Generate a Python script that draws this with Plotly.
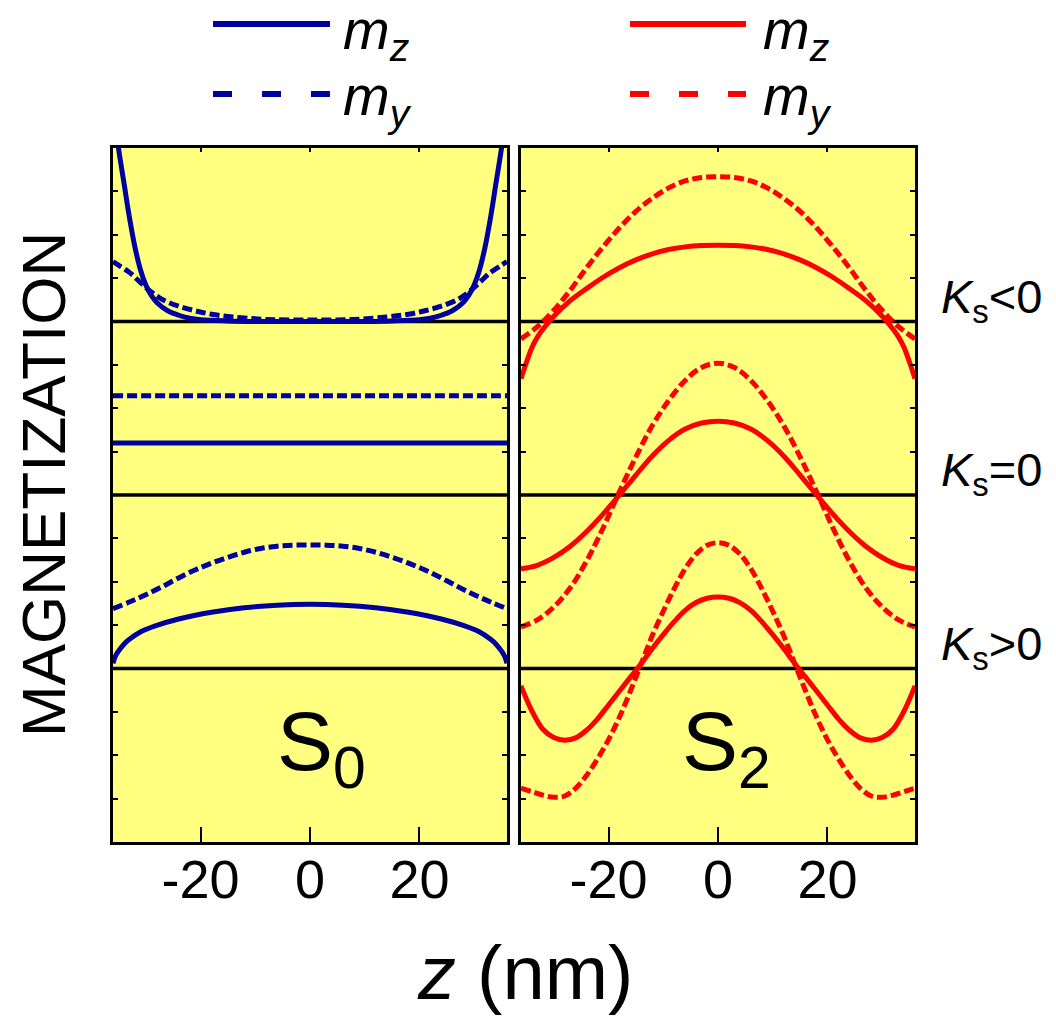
import plotly.graph_objects as go

# ---------------- data ----------------
Z_RANGE = [-36, 36]
X_TICKS = [-20, 0, 20]
X_TICKTEXT = ["-20", "0", "20"]
Y_RANGE = [-1, 3]
# vertical offsets of the three cases (baselines)
OFF_POS, OFF_ZERO, OFF_NEG = 0.0, 1.0, 2.0
CASE_LABELS = ["<i>K</i><sub>s</sub>&lt;0", "<i>K</i><sub>s</sub>=0", "<i>K</i><sub>s</sub>&gt;0"]
CASE_OFFSETS = [OFF_NEG, OFF_ZERO, OFF_POS]

# ---- S0 (blue), values relative to baseline ----
s0_neg_mz_z = [-36, -35, -34, -33, -32, -31, -30, -29, -28, -26, -24, -22, -20, -15, -10, 0,
               10, 15, 20, 22, 24, 26, 28, 29, 30, 31, 32, 33, 34, 35, 36]
s0_neg_mz = [1.25, 1.0, 0.80, 0.60, 0.43, 0.30, 0.21, 0.15, 0.11, 0.062, 0.036, 0.019, 0.01, 0.003, 0.0, 0.0,
             0.0, 0.003, 0.01, 0.019, 0.036, 0.062, 0.11, 0.15, 0.21, 0.30, 0.43, 0.60, 0.80, 1.0, 1.25]
s0_neg_my_z = [-36, -35, -33, -31, -29, -27, -24, -21, -18, -14, -8, 0, 8, 14, 18, 21, 24, 27, 29, 31, 33, 35, 36]
s0_neg_my = [0.345, 0.325, 0.283, 0.225, 0.17, 0.127, 0.088, 0.062, 0.042, 0.026, 0.012, 0.008,
             0.012, 0.026, 0.042, 0.062, 0.088, 0.127, 0.17, 0.225, 0.283, 0.325, 0.345]
s0_zero_z = [-36, -18, 0, 18, 36]
s0_zero_mz = [0.30, 0.30, 0.30, 0.30, 0.30]
s0_zero_my = [0.572, 0.572, 0.572, 0.572, 0.572]
s0_pos_my_z = [-36, -33, -30, -27, -24, -21, -18, -15, -12, -9, -6, -3, 0, 3, 6, 9, 12, 15, 18, 21, 24, 27, 30, 33, 36]
s0_pos_my = [0.345, 0.383, 0.425, 0.472, 0.522, 0.568, 0.607, 0.641, 0.670, 0.692, 0.705, 0.711, 0.712,
             0.711, 0.705, 0.692, 0.670, 0.641, 0.607, 0.568, 0.522, 0.472, 0.425, 0.383, 0.345]
s0_pos_mz_z = [-36, -35.5, -35, -34, -33, -31, -28, -24, -18, -12, -6, 0, 6, 12, 18, 24, 28, 31, 33, 34, 35, 35.5, 36]
s0_pos_mz = [0.03, 0.075, 0.10, 0.14, 0.168, 0.21, 0.248, 0.285, 0.324, 0.350, 0.365, 0.37,
             0.365, 0.350, 0.324, 0.285, 0.248, 0.21, 0.168, 0.14, 0.10, 0.075, 0.03]

# ---- S2 (red), values relative to baseline ----
s2_grid3 = [-36, -33, -30, -27, -24, -21, -18, -15, -12, -9, -6, -3, 0, 3, 6, 9, 12, 15, 18, 21, 24, 27, 30, 33, 36]
s2_neg_my = [-0.10, -0.03, 0.065, 0.18, 0.31, 0.43, 0.54, 0.635, 0.71, 0.77, 0.81, 0.83, 0.835,
             0.83, 0.81, 0.77, 0.71, 0.635, 0.54, 0.43, 0.31, 0.18, 0.065, -0.03, -0.10]
s2_neg_mz_z = [-36, -35, -34, -33, -32, -30, -27, -24, -21, -18, -15, -12, -9, -6, -3, 0,
               3, 6, 9, 12, 15, 18, 21, 24, 27, 30, 32, 33, 34, 35, 36]
s2_neg_mz = [-0.33, -0.235, -0.15, -0.09, -0.045, 0.03, 0.12, 0.19, 0.255, 0.31, 0.355, 0.39, 0.415, 0.43, 0.438, 0.44,
             0.438, 0.43, 0.415, 0.39, 0.355, 0.31, 0.255, 0.19, 0.12, 0.03, -0.045, -0.09, -0.15, -0.235, -0.33]
s2_zero_mz = [-0.425, -0.405, -0.36, -0.295, -0.21, -0.11, 0.0, 0.115, 0.225, 0.315, 0.38, 0.415, 0.425,
              0.415, 0.38, 0.315, 0.225, 0.115, 0.0, -0.11, -0.21, -0.295, -0.36, -0.405, -0.425]
s2_zero_my = [-0.76, -0.72, -0.645, -0.535, -0.38, -0.19, 0.02, 0.22, 0.40, 0.545, 0.66, 0.735, 0.76,
              0.735, 0.66, 0.545, 0.40, 0.22, 0.02, -0.19, -0.38, -0.535, -0.645, -0.72, -0.76]
s2_grid2 = [-36, -34, -32, -30, -28, -26, -24, -22, -20, -18, -16, -14, -12, -10, -8, -6, -4, -2, 0,
            2, 4, 6, 8, 10, 12, 14, 16, 18, 20, 22, 24, 26, 28, 30, 32, 34, 36]
s2_pos_mz = [-0.10, -0.245, -0.35, -0.398, -0.413, -0.40, -0.355, -0.29, -0.21, -0.13, -0.05, 0.03, 0.115,
             0.195, 0.27, 0.335, 0.38, 0.405, 0.412,
             0.405, 0.38, 0.335, 0.27, 0.195, 0.115, 0.03, -0.05, -0.13, -0.21, -0.29, -0.355, -0.40,
             -0.413, -0.398, -0.35, -0.245, -0.10]
s2_pos_my = [-0.69, -0.71, -0.73, -0.742, -0.735, -0.69, -0.615, -0.52, -0.41, -0.28, -0.13, 0.03, 0.19,
             0.33, 0.46, 0.575, 0.66, 0.71, 0.725,
             0.71, 0.66, 0.575, 0.46, 0.33, 0.19, 0.03, -0.13, -0.28, -0.41, -0.52, -0.615, -0.69,
             -0.735, -0.742, -0.73, -0.71, -0.69]

LEGEND_LABELS = ["<i>m</i><sub><i>z</i></sub>", "<i>m</i><sub><i>y</i></sub>"]
PANEL_LABELS = ["S<sub>0</sub>", "S<sub>2</sub>"]
Y_TITLE = "MAGNETIZATION"
X_TITLE = "<i>z</i> (nm)"

# ---------------- style ----------------
BLUE = "#0000A0"
RED = "#FF0000"
BG = "#FFFF80"
FONT = "Liberation Sans, Arial, sans-serif"
PAGE_OFF = 8                      # default body margin of the html page
W, H = 1056 - PAGE_OFF, 1016 - PAGE_OFF
ML, MR, MT, MB = 113 - PAGE_OFF, 141, 148 - PAGE_OFF, 174
LW = 5
DASH = "10px,4px"

fig = go.Figure()


def add_curve(xa, ya, z, vals, off, color, dashed):
    fig.add_trace(go.Scatter(
        x=z, y=[off + v for v in vals], xaxis=xa, yaxis=ya, mode="lines",
        line=dict(color=color, width=LW, dash=DASH if dashed else "solid", shape="spline", smoothing=1.0),
        showlegend=False, hoverinfo="skip"))


# S0 panel
add_curve("x", "y", s0_neg_my_z, s0_neg_my, OFF_NEG, BLUE, True)
add_curve("x", "y", s0_neg_mz_z, s0_neg_mz, OFF_NEG, BLUE, False)
add_curve("x", "y", s0_zero_z, s0_zero_my, OFF_ZERO, BLUE, True)
add_curve("x", "y", s0_zero_z, s0_zero_mz, OFF_ZERO, BLUE, False)
add_curve("x", "y", s0_pos_my_z, s0_pos_my, OFF_POS, BLUE, True)
add_curve("x", "y", s0_pos_mz_z, s0_pos_mz, OFF_POS, BLUE, False)
# S2 panel
add_curve("x2", "y2", s2_grid3, s2_neg_my, OFF_NEG, RED, True)
add_curve("x2", "y2", s2_neg_mz_z, s2_neg_mz, OFF_NEG, RED, False)
add_curve("x2", "y2", s2_grid3, s2_zero_my, OFF_ZERO, RED, True)
add_curve("x2", "y2", s2_grid3, s2_zero_mz, OFF_ZERO, RED, False)
add_curve("x2", "y2", s2_grid2, s2_pos_my, OFF_POS, RED, True)
add_curve("x2", "y2", s2_grid2, s2_pos_mz, OFF_POS, RED, False)

# dummy traces so that the top (short-tick) overlay axes are drawn
fig.add_trace(go.Scatter(x=[None], y=[None], xaxis="x3", yaxis="y", showlegend=False, hoverinfo="skip"))
fig.add_trace(go.Scatter(x=[None], y=[None], xaxis="x4", yaxis="y2", showlegend=False, hoverinfo="skip"))

# baselines
for off in CASE_OFFSETS:
    for xr, yr in (("x domain", "y"), ("x2 domain", "y2")):
        fig.add_shape(type="line", xref=xr, yref=yr, x0=0, x1=1, y0=off, y1=off,
                      line=dict(color="black", width=3.5), layer="below")

xcommon = dict(range=Z_RANGE, tickvals=X_TICKS, ticktext=X_TICKTEXT, ticks="inside", ticklen=15, tickwidth=2,
               tickcolor="black", showline=True, linewidth=3, linecolor="black", mirror=True, showgrid=False,
               zeroline=False, tickfont=dict(size=54), ticklabelstandoff=-12)
xtop = dict(range=Z_RANGE, tickvals=X_TICKS, ticks="inside", ticklen=4, tickwidth=2, tickcolor="black",
            side="top", showline=False, showgrid=False, zeroline=False, showticklabels=False)
ycommon = dict(range=Y_RANGE, tick0=-1, dtick=0.25, ticks="inside", ticklen=5, tickwidth=2, tickcolor="black",
               showline=True, linewidth=3, linecolor="black", mirror="ticks", showgrid=False, zeroline=False,
               showticklabels=False)

PW = W - ML - MR
D1 = 394 / PW
D2 = 408 / PW
fig.update_layout(
    width=W, height=H, margin=dict(l=ML, r=MR, t=MT, b=MB),
    paper_bgcolor="white", plot_bgcolor=BG, showlegend=False,
    font=dict(family=FONT, color="black"),
    xaxis=dict(domain=[0, D1], anchor="y", **xcommon),
    xaxis2=dict(domain=[D2, 1], anchor="y2", **xcommon),
    xaxis3=dict(overlaying="x", anchor="y", **xtop),
    xaxis4=dict(overlaying="x2", anchor="y2", **xtop),
    yaxis=dict(anchor="x", domain=[0, 1], **ycommon),
    yaxis2=dict(anchor="x2", domain=[0, 1], **ycommon),
)


def px_x(p):
    """screen pixel x -> paper coordinate"""
    return (p - PAGE_OFF - ML) / PW


def px_y(p):
    """screen pixel y -> paper coordinate"""
    return (H - MB - (p - PAGE_OFF)) / (H - MT - MB)


# axis titles
fig.add_annotation(text=Y_TITLE, xref="paper", yref="paper", x=px_x(43), y=px_y(485), textangle=-90,
                   xanchor="center", yanchor="middle", showarrow=False, font=dict(size=62))
fig.add_annotation(text=X_TITLE, xref="paper", yref="paper", x=px_x(525), y=px_y(972),
                   xanchor="center", yanchor="middle", showarrow=False, font=dict(size=76))

# panel labels
fig.add_annotation(text=PANEL_LABELS[0], xref="x", yref="y", x=-6.4, y=-0.45, xanchor="left", yanchor="middle",
                   showarrow=False, font=dict(size=84))
fig.add_annotation(text=PANEL_LABELS[1], xref="x2", yref="y2", x=-7.0, y=-0.45, xanchor="left", yanchor="middle",
                   showarrow=False, font=dict(size=84))

# case labels on the right
for lab, off in zip(CASE_LABELS, CASE_OFFSETS):
    fig.add_annotation(text=lab, xref="paper", yref="y", x=px_x(939), y=off + 0.125, xanchor="left",
                       yanchor="middle", showarrow=False, font=dict(size=47))

# manual legend (long line keys above each panel)
for color, x0, x1, xt in ((BLUE, 213, 330, 341), (RED, 630, 746, 761)):
    fig.add_shape(type="line", xref="paper", yref="paper", x0=px_x(x0), x1=px_x(x1), y0=px_y(24), y1=px_y(24),
                  line=dict(color=color, width=6))
    fig.add_shape(type="line", xref="paper", yref="paper", x0=px_x(x0), x1=px_x(x1), y0=px_y(94), y1=px_y(94),
                  line=dict(color=color, width=6, dash="19px,30px"))
    fig.add_annotation(text=LEGEND_LABELS[0], xref="paper", yref="paper", x=px_x(xt), y=px_y(33),
                       xanchor="left", yanchor="middle", showarrow=False, font=dict(size=56))
    fig.add_annotation(text=LEGEND_LABELS[1], xref="paper", yref="paper", x=px_x(xt), y=px_y(100),
                       xanchor="left", yanchor="middle", showarrow=False, font=dict(size=56))

fig.write_html("out.html")
